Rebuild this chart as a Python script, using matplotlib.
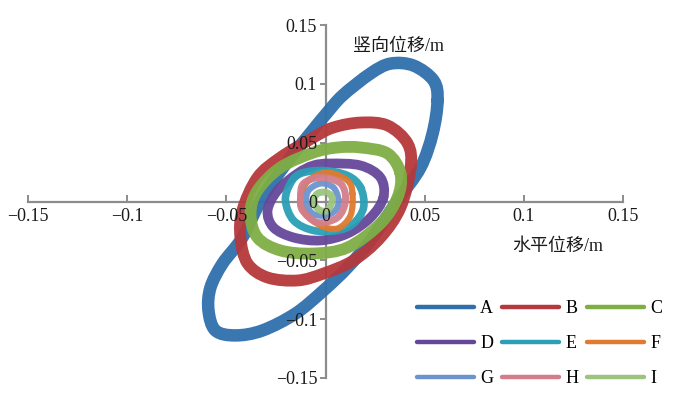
import matplotlib
matplotlib.use("Agg")
import matplotlib.pyplot as plt
from matplotlib.lines import Line2D
from matplotlib.path import Path
from matplotlib.patches import PathPatch

plt.rcParams['font.family'] = ['Liberation Serif', 'Noto Sans CJK SC']
plt.rcParams['axes.unicode_minus'] = True

# ---- data: orbit points (horizontal, vertical) in m ----
series_names = ["A", "B", "C", "D", "E", "F", "G", "H", "I"]

A_x = [0.0565, 0.0545, 0.0444, 0.0328, 0.0227, 0.0086, 0.0005, -0.0066, -0.0187, -0.0318, -0.0419,
       -0.0519, -0.058, -0.059, -0.0555, -0.0454, -0.0318, -0.0151, -0.001, 0.0111, 0.0227,
       0.0363, 0.0479, 0.054]
A_y = [0.0858, 0.1028, 0.1155, 0.1172, 0.1088, 0.0901, 0.0748, 0.0603, 0.0348, 0.0034, -0.0306,
       -0.0527, -0.0731, -0.0926, -0.1096, -0.1138, -0.1096, -0.0952, -0.0756, -0.0561, -0.0331,
       0.0008, 0.0289, 0.0578]

B_x = [0.0429, 0.0414, 0.0313, 0.0177, 0.004, -0.0061, -0.0227, -0.0343, -0.0419, -0.0429,
       -0.0393, -0.0292, -0.0141, -0.001, 0.0141, 0.0277, 0.0378]
B_y = [0.0289, 0.0493, 0.0646, 0.0671, 0.0629, 0.0544, 0.0374, 0.0204, -0.0076, -0.0306,
       -0.0527, -0.0646, -0.0671, -0.0612, -0.0501, -0.0306, -0.0051]

C_x = [0.0378, 0.0313, 0.0177, 0.0061, -0.0061, -0.0227, -0.0343, -0.0378, -0.0343, -0.0227,
       -0.0061, 0.0111, 0.0277, 0.0363]
C_y = [0.0238, 0.0408, 0.0459, 0.0459, 0.0416, 0.0289, 0.0093, -0.0102, -0.0306, -0.0416,
       -0.0442, -0.0391, -0.0187, 0.0034]

D_x = [0.0292, 0.0277, 0.0177, 0.0025, -0.0061, -0.0141, -0.0242, -0.0292, -0.0262, -0.0161,
       -0.0025, 0.0111, 0.0227]
D_y = [0.0034, 0.0204, 0.0306, 0.0323, 0.0306, 0.0238, 0.0093, -0.0076, -0.0221, -0.0306,
       -0.0331, -0.0272, -0.0136]

E_x = [0.0177, 0.0111, -0.001, -0.0126, -0.0177, -0.0202, -0.0161, -0.0061, 0.0061, 0.0141, 0.0192]
E_y = [0.0119, 0.0221, 0.0263, 0.0238, 0.0153, 0.0008, -0.0161, -0.0246, -0.0246, -0.0187, -0.0051]

F_x = [0.0136, 0.0111, 0.001, -0.0086, -0.0126, -0.0101, -0.0025, 0.0061, 0.0126]
F_y = [0.0068, 0.0178, 0.0246, 0.0178, 0.0034, -0.0102, -0.0204, -0.0229, -0.0119]

G_x = [0.0066, 0.004, -0.0025, -0.0086, -0.0096, -0.0066, 0.0, 0.005]
G_y = [0.0008, 0.0119, 0.0153, 0.0093, -0.0008, -0.0102, -0.0119, -0.0076]

H_x = [0.0101, 0.0076, -0.0025, -0.0111, -0.0126, -0.0116, -0.004, 0.0061]
H_y = [0.0008, 0.0153, 0.0204, 0.0153, 0.0034, -0.0076, -0.0178, -0.0136]

I_x = [0.0035, 0.0005, -0.004, -0.006, -0.0035, 0.001]
I_y = [0.0025, 0.0076, 0.0068, 0.0, -0.0068, -0.0076]

xs = [A_x, B_x, C_x, D_x, E_x, F_x, G_x, H_x, I_x]
ys = [A_y, B_y, C_y, D_y, E_y, F_y, G_y, H_y, I_y]

ticks = [-0.15, -0.1, -0.05, 0, 0.05, 0.1, 0.15]
tick_labels = ["\u22120.15", "\u22120.1", "\u22120.05", "0", "0.05", "0.1", "0.15"]

# ---- styles ----
colors = ['#2f6fab', '#b5383b', '#7fae45', '#65479a', '#2a9fb6', '#e07a2e', '#6b94cf', '#d37d8b', '#9cc47e']
widths = [9.0, 8.5, 8.5, 7.0, 5.5, 4.5, 4.5, 5.0, 5.0]


def smooth_closed_path(px, py):
    """Closed smooth curve passing through every read point (Catmull-Rom as cubic Beziers)."""
    n = len(px)
    verts = [(px[0], py[0])]
    codes = [Path.MOVETO]
    for i in range(n):
        p0 = (px[i - 1], py[i - 1])
        p1 = (px[i], py[i])
        p2 = (px[(i + 1) % n], py[(i + 1) % n])
        p3 = (px[(i + 2) % n], py[(i + 2) % n])
        c1 = (p1[0] + (p2[0] - p0[0]) / 6, p1[1] + (p2[1] - p0[1]) / 6)
        c2 = (p2[0] - (p3[0] - p1[0]) / 6, p2[1] - (p3[1] - p1[1]) / 6)
        verts += [c1, c2, p2]
        codes += [Path.CURVE4] * 3
    return Path(verts, codes)


W, H = 681, 407
fig = plt.figure(figsize=(W / 100, H / 100), dpi=100)
ax = fig.add_axes([28 / W, 1 - 378 / H, (623 - 28) / W, (378 - 25) / H])
ax.set_xlim(-0.15, 0.15)
ax.set_ylim(-0.15, 0.15)

for x, y, c, lw in zip(xs, ys, colors, widths):
    patch = PathPatch(smooth_closed_path(x, y), facecolor='none', edgecolor=c, lw=lw,
                      joinstyle='round', capstyle='round', alpha=0.95, zorder=2)
    ax.add_patch(patch)

for side in ['top', 'right']:
    ax.spines[side].set_visible(False)
for side in ['left', 'bottom']:
    ax.spines[side].set_position(('data', 0))
    ax.spines[side].set_color('#8c8c8c')
    ax.spines[side].set_linewidth(1.6)
    ax.spines[side].set_zorder(1)

ax.set_xticks(ticks)
ax.set_xticklabels(tick_labels)
ax.set_yticks(ticks)
ax.set_yticklabels(tick_labels)
ax.tick_params(axis='x', direction='in', length=5, width=1.4, color='#8c8c8c', pad=5,
               labelsize=13, labelcolor='#1a1a1a')
ax.tick_params(axis='y', direction='out', length=4, width=1.4, color='#8c8c8c', pad=2,
               labelsize=13, labelcolor='#1a1a1a')
ax.xaxis.set_zorder(5)
ax.yaxis.set_zorder(5)

fig.text(353 / W, 1 - 46 / H, "竖向位移/m", fontsize=13, ha='left', va='center', color='#1a1a1a')
fig.text(512 / W, 1 - 246 / H, "水平位移/m", fontsize=13, ha='left', va='center', color='#1a1a1a')

# legend filled row by row: A B C / D E F / G H I
order = [0, 3, 6, 1, 4, 7, 2, 5, 8]
handles = [Line2D([], [], color=colors[i], lw=3.2, solid_capstyle='round') for i in order]
labels = [series_names[i] for i in order]
leg = fig.legend(handles, labels, loc='upper left', bbox_to_anchor=(417 / W, 1 - 300 / H),
                 ncol=3, frameon=False, fontsize=13, handlelength=3.15, handletextpad=0.35,
                 columnspacing=0.48, labelspacing=1.0, borderpad=0, borderaxespad=0)

fig.savefig("out.png", dpi=100)
